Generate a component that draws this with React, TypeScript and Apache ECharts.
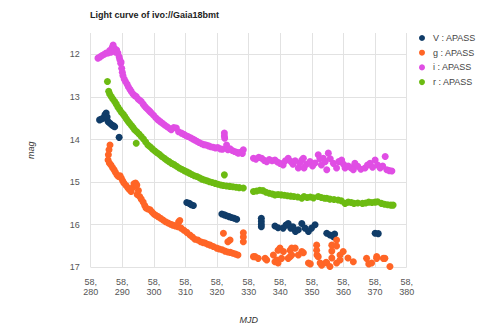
import React, { useEffect, useRef } from "react";
import * as echarts from "echarts";

const titleText = "Light curve of ivo://Gaia18bmt";
const seriesNames = ["V : APASS", "g : APASS", "i : APASS", "r : APASS"];
const seriesColors = ["#103c68", "#ff6526", "#e04ee4", "#6cbb12"];
const xTicks = [58280, 58290, 58300, 58310, 58320, 58330, 58340, 58350, 58360, 58370, 58380];
const yTicks = [12, 13, 14, 15, 16, 17];

const vData = [
  [58282.8, 13.54], [58283.4, 13.52], [58283.9, 13.5], [58284.5, 13.42], [58284.9, 13.38], [58285.2, 13.47],
  [58285.5, 13.58], [58286.1, 13.62], [58286.7, 13.66], [58287.2, 13.68], [58287.6, 13.7], [58289.0, 13.95],
  [58310.4, 15.48], [58311.2, 15.5], [58311.8, 15.53], [58312.5, 15.55],
  [58321.5, 15.75], [58322.3, 15.77], [58323.0, 15.79], [58323.8, 15.81], [58324.6, 15.83], [58325.4, 15.85], [58326.2, 15.87],
  [58334.0, 15.85], [58334.0, 15.92], [58334.0, 15.99], [58334.0, 16.05],
  [58338.3, 16.03], [58339.3, 16.07], [58340.9, 16.08], [58341.8, 16.01], [58342.5, 15.97], [58343.3, 16.08],
  [58344.0, 16.05], [58344.8, 16.16], [58345.7, 16.12], [58346.8, 15.97], [58347.8, 16.08], [58348.9, 16.16],
  [58349.9, 16.08], [58351.0, 16.0],
  [58354.7, 16.2], [58355.7, 16.24], [58356.8, 16.28], [58357.2, 16.22],
  [58370.0, 16.2], [58371.0, 16.21],
];

const gData = [
  [58286.1, 14.13], [58285.8, 14.24], [58285.6, 14.36], [58285.5, 14.48], [58285.9, 14.55], [58286.4, 14.6],
  [58286.9, 14.66], [58287.4, 14.71], [58287.8, 14.77], [58288.3, 14.83], [58288.8, 14.87], [58289.3, 14.85],
  [58289.7, 14.91], [58290.1, 14.97], [58290.5, 15.02], [58291.2, 15.08], [58291.8, 15.14], [58292.3, 15.18],
  [58292.8, 15.22], [58293.4, 15.12], [58293.7, 15.04], [58294.2, 15.02], [58294.6, 15.07], [58294.7, 15.29],
  [58295.1, 15.2], [58295.5, 15.34], [58296.0, 15.4], [58296.6, 15.47], [58297.1, 15.55], [58297.5, 15.61],
  [58298.1, 15.63], [58298.8, 15.65], [58299.4, 15.7], [58300.0, 15.75], [58300.6, 15.78], [58301.3, 15.81],
  [58302.1, 15.85], [58302.9, 15.89], [58303.7, 15.93], [58304.5, 15.96], [58305.3, 15.99], [58306.0, 16.01],
  [58306.8, 16.03], [58307.6, 16.05], [58307.8, 15.94], [58308.2, 15.9], [58308.6, 16.08], [58309.5, 16.13],
  [58310.4, 16.18], [58311.4, 16.24], [58312.2, 16.29], [58313.0, 16.34], [58313.9, 16.36], [58314.8, 16.4],
  [58315.5, 16.42], [58316.2, 16.43], [58317.0, 16.46], [58317.8, 16.48], [58318.8, 16.51], [58319.9, 16.55],
  [58320.7, 16.57], [58321.6, 16.59], [58322.5, 16.62], [58323.4, 16.64], [58324.2, 16.65], [58325.0, 16.67],
  [58325.8, 16.69], [58326.6, 16.71],
  [58322.0, 16.2], [58323.4, 16.4], [58324.1, 16.36], [58328.3, 16.19], [58328.3, 16.29], [58328.3, 16.4],
  [58331.5, 16.75], [58332.0, 16.75], [58333.0, 16.79], [58335.2, 16.79], [58335.7, 16.83], [58337.8, 16.71],
  [58338.3, 16.87], [58338.9, 16.83], [58339.3, 16.6], [58339.3, 16.9], [58339.9, 16.55], [58340.4, 16.79],
  [58341.0, 16.63], [58342.5, 16.79], [58343.1, 16.6], [58343.1, 16.75], [58343.6, 16.55], [58343.6, 16.71],
  [58344.7, 16.55], [58345.7, 16.71], [58346.8, 16.63], [58347.3, 16.66], [58348.9, 16.9], [58349.5, 16.92],
  [58351.5, 16.48], [58351.5, 16.6], [58351.6, 16.71], [58352.0, 16.75], [58352.6, 16.9], [58353.1, 16.95],
  [58354.5, 16.88], [58354.7, 16.9], [58355.7, 16.98], [58356.3, 16.48], [58356.3, 16.62], [58356.3, 16.78],
  [58357.8, 16.36], [58357.8, 16.5], [58357.8, 16.9], [58358.9, 16.71], [58358.9, 16.83], [58359.9, 16.63],
  [58361.4, 16.78], [58363.1, 16.87], [58367.3, 16.79], [58367.3, 17.02], [58368.0, 16.92], [58368.9, 16.9],
  [58369.3, 17.02], [58370.5, 16.75], [58370.5, 16.79], [58371.5, 17.01], [58372.6, 16.79], [58373.1, 16.79],
  [58373.8, 17.01], [58374.7, 16.98], [58375.7, 17.02],
];

const iData = [
  [58282.3, 12.09], [58283.0, 12.06], [58283.6, 12.03], [58284.3, 12.0], [58284.9, 11.97], [58285.5, 11.97],
  [58286.0, 11.91], [58286.4, 11.95], [58286.8, 11.84], [58287.1, 11.78], [58287.5, 11.86], [58287.9, 11.95],
  [58288.2, 11.9], [58288.6, 11.97], [58289.0, 12.06], [58289.2, 12.12], [58289.5, 12.21], [58289.6, 12.18],
  [58289.8, 12.33], [58290.0, 12.42], [58290.2, 12.5], [58290.6, 12.58], [58291.0, 12.64], [58291.5, 12.7],
  [58291.9, 12.76], [58292.4, 12.82], [58292.8, 12.87], [58293.4, 12.93], [58293.9, 12.97], [58294.4, 12.99],
  [58295.0, 13.05], [58295.5, 13.08], [58296.0, 13.11], [58296.6, 13.17], [58297.1, 13.22], [58297.6, 13.26],
  [58298.2, 13.3], [58298.7, 13.34], [58299.2, 13.38], [58299.9, 13.43], [58300.6, 13.49], [58301.3, 13.54],
  [58302.0, 13.58], [58302.7, 13.62], [58303.4, 13.66], [58304.2, 13.7], [58305.0, 13.74], [58305.5, 13.77],
  [58306.3, 13.72], [58307.1, 13.73], [58307.8, 13.82], [58308.7, 13.85], [58309.5, 13.88], [58310.2, 13.91],
  [58310.8, 13.93], [58311.6, 13.96], [58312.3, 13.99], [58312.9, 14.01], [58313.6, 14.04], [58314.3, 14.07],
  [58315.1, 14.1], [58315.8, 14.12], [58316.5, 14.13], [58317.3, 14.15], [58318.0, 14.17], [58318.8, 14.18],
  [58319.5, 14.2], [58320.2, 14.19], [58321.0, 14.22], [58321.7, 14.23], [58322.3, 13.85], [58322.3, 13.92],
  [58322.4, 13.97], [58323.0, 14.13], [58323.4, 14.24], [58324.1, 14.22], [58324.8, 14.26], [58325.5, 14.28],
  [58326.2, 14.3], [58326.7, 14.32], [58327.4, 14.3], [58328.0, 14.33], [58328.3, 14.24],
  [58331.5, 14.44], [58332.3, 14.46], [58333.2, 14.42], [58334.1, 14.44], [58334.9, 14.49], [58335.7, 14.52],
  [58336.5, 14.47], [58337.4, 14.5], [58338.3, 14.48], [58339.1, 14.53], [58339.9, 14.56], [58340.9, 14.6],
  [58341.6, 14.5], [58342.5, 14.44], [58343.4, 14.52], [58344.0, 14.58], [58344.7, 14.5], [58345.7, 14.67],
  [58346.2, 14.55], [58346.8, 14.48], [58347.3, 14.44], [58347.5, 14.67], [58348.3, 14.58], [58349.4, 14.52],
  [58350.2, 14.62], [58351.0, 14.55], [58352.0, 14.36], [58352.5, 14.45], [58353.0, 14.6], [58353.6, 14.44],
  [58354.2, 14.52], [58354.7, 14.71], [58355.2, 14.32], [58355.8, 14.45], [58356.8, 14.56], [58357.8, 14.67],
  [58358.5, 14.52], [58359.4, 14.48], [58360.0, 14.58], [58360.5, 14.67], [58361.5, 14.62], [58362.3, 14.66],
  [58363.1, 14.71], [58363.6, 14.56], [58364.5, 14.63], [58365.5, 14.7], [58366.8, 14.67], [58367.6, 14.6],
  [58368.4, 14.56], [58369.2, 14.65], [58370.0, 14.48], [58370.8, 14.6], [58371.6, 14.67], [58372.4, 14.62],
  [58373.2, 14.4], [58373.7, 14.71], [58374.5, 14.73], [58375.3, 14.74],
];

const rData = [
  [58285.3, 12.64], [58285.7, 12.87], [58286.0, 12.93], [58286.5, 12.99], [58287.0, 13.05], [58287.6, 13.11],
  [58288.1, 13.17], [58288.6, 13.24], [58289.2, 13.3], [58289.7, 13.36], [58290.3, 13.41], [58290.8, 13.46],
  [58291.3, 13.52], [58291.8, 13.57], [58292.3, 13.62], [58292.9, 13.67], [58293.4, 13.72], [58293.9, 13.77],
  [58294.4, 14.09], [58294.6, 13.82], [58295.3, 13.87], [58296.0, 13.93], [58296.7, 13.99], [58297.4, 14.06],
  [58298.1, 14.13], [58298.8, 14.17], [58299.5, 14.22], [58300.3, 14.27], [58301.0, 14.31], [58301.8, 14.35],
  [58302.5, 14.4], [58303.3, 14.44], [58304.0, 14.48], [58304.8, 14.52], [58305.6, 14.56], [58306.4, 14.59],
  [58307.2, 14.63], [58308.0, 14.67], [58308.8, 14.7], [58309.6, 14.73], [58310.4, 14.76], [58311.2, 14.79],
  [58312.0, 14.82], [58312.8, 14.85], [58313.6, 14.87], [58314.4, 14.9], [58315.2, 14.93], [58316.0, 14.95],
  [58316.8, 14.97], [58317.6, 14.99], [58318.5, 15.01], [58319.4, 15.03], [58320.3, 15.05], [58321.2, 15.07],
  [58322.0, 15.08], [58322.3, 14.83], [58323.0, 15.09], [58324.0, 15.1], [58325.0, 15.11], [58326.0, 15.12],
  [58327.0, 15.13], [58328.3, 15.14],
  [58331.5, 15.22], [58332.5, 15.21], [58333.5, 15.19], [58334.5, 15.2], [58335.5, 15.24], [58336.5, 15.26],
  [58337.5, 15.28], [58338.3, 15.3], [58339.3, 15.29], [58340.3, 15.3], [58341.3, 15.31], [58342.3, 15.32],
  [58343.3, 15.33], [58344.3, 15.34], [58345.5, 15.35], [58346.8, 15.38], [58347.5, 15.34], [58348.5, 15.36],
  [58349.5, 15.35], [58350.5, 15.37], [58352.0, 15.34], [58353.0, 15.36], [58354.0, 15.38], [58354.7, 15.38],
  [58355.7, 15.4], [58357.0, 15.41], [58358.3, 15.42], [58359.3, 15.44], [58360.5, 15.5], [58361.5, 15.47],
  [58362.5, 15.48], [58363.3, 15.5], [58364.5, 15.49], [58366.0, 15.5], [58367.0, 15.49], [58368.0, 15.47],
  [58369.0, 15.48], [58370.0, 15.47], [58370.8, 15.46], [58372.0, 15.5], [58373.0, 15.52], [58374.0, 15.53],
  [58375.0, 15.54], [58375.7, 15.54],
];

const allData = [vData, gData, iData, rData];

export default function App() {
  const ref = useRef<HTMLDivElement>(null);
  useEffect(() => {
    if (!ref.current) return;
    document.body.style.margin = "0";
    const chart = echarts.init(ref.current, null, { renderer: "svg" });
    const font = "Liberation Sans";
    chart.setOption({
      animation: false,
      backgroundColor: "#ffffff",
      title: {
        text: titleText,
        left: 90,
        top: 9,
        padding: 0,
        textStyle: { fontFamily: font, fontSize: 9, fontWeight: "bold", color: "#222", lineHeight: 11 },
      },
      legend: {
        orient: "vertical",
        left: 419,
        top: 33,
        padding: 0,
        itemWidth: 12,
        itemHeight: 6,
        itemGap: 4.7,
        icon: "circle",
        data: seriesNames,
        textStyle: { fontFamily: font, fontSize: 9, color: "#444", lineHeight: 10 },
      },
      grid: {
        left: 90.7,
        right: 74.3,
        top: 33,
        bottom: 56.7,
        containLabel: false,
        outerBoundsMode: "none",
      },
      xAxis: {
        type: "value",
        min: xTicks[0],
        max: xTicks[xTicks.length - 1],
        interval: 10,
        name: "MJD",
        nameLocation: "middle",
        nameGap: 48,
        nameTextStyle: { fontFamily: font, fontSize: 9, fontStyle: "italic", color: "#333" },
        axisLine: { show: false },
        axisTick: { show: false },
        axisLabel: {
          fontFamily: font,
          fontSize: 9,
          color: "#555",
          margin: 10,
          lineHeight: 10,
          formatter: (v: number) => {
            const s = Math.round(v).toLocaleString("en-US");
            const parts = s.split(",");
            return parts[0] + ",\n" + parts[1];
          },
        },
        splitLine: { show: true, lineStyle: { color: "#e2e2e2", width: 1 } },
      },
      yAxis: {
        type: "value",
        inverse: true,
        min: 11.5,
        max: yTicks[yTicks.length - 1],
        interval: 0.5,
        name: "mag",
        nameLocation: "middle",
        nameGap: 55,
        nameTextStyle: { fontFamily: font, fontSize: 9, fontStyle: "italic", color: "#333" },
        axisLine: { show: false },
        axisTick: { show: false },
        axisLabel: {
          fontFamily: font,
          fontSize: 9,
          color: "#555",
          margin: 11,
          formatter: (v: number) => (yTicks.includes(v) ? String(v) : ""),
        },
        splitLine: { show: true, lineStyle: { color: ["rgba(0,0,0,0)", "#e2e2e2"], width: 1 } },
      },
      series: seriesNames.map((name, k) => ({
        name,
        type: "scatter",
        data: allData[k],
        symbol: "circle",
        symbolSize: 7,
        itemStyle: { color: seriesColors[k], opacity: 1 },
        z: 2 + k,
      })),
    });
    return () => chart.dispose();
  }, []);
  return <div ref={ref} style={{ width: 481, height: 324 }} />;
}
